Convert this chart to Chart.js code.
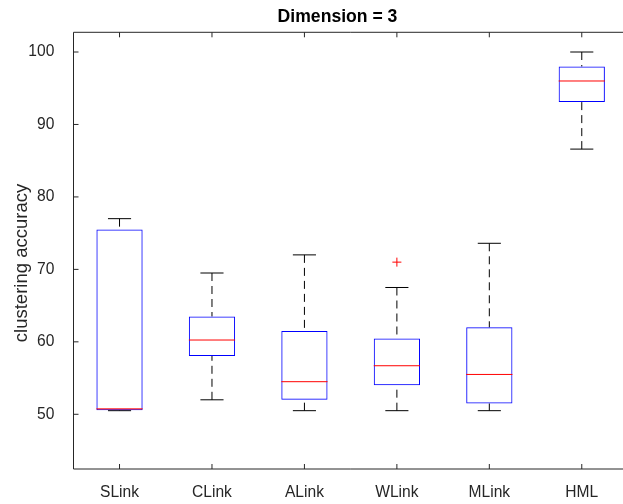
<!DOCTYPE html>
<html lang="en">
<head>
    <meta charset="UTF-8">
    <title>Dimension = 3</title>
    <script src="https://cdn.jsdelivr.net/npm/chart.js"></script>
    <style>
        body { margin: 0; overflow: hidden; background: #fff; }
        canvas { display: block; }
    </style>
</head>
<body>
    <canvas id="boxChart" width="628" height="504"></canvas>

    <script>
        // box plot summary per method
        const categories = ['SLink', 'CLink', 'ALink', 'WLink', 'MLink', 'HML'];
        const whiskerLow = [50.5, 52.0, 50.5, 50.5, 50.5, 86.6];
        const quartile1 = [50.55, 58.05, 52.0, 54.0, 51.5, 93.1];
        const medians = [50.75, 60.25, 54.5, 56.7, 55.5, 96.0];
        const quartile3 = [75.5, 63.5, 61.5, 60.45, 62.0, 98.0];
        const whiskerHigh = [77.0, 69.5, 72.0, 67.5, 73.6, 100.0];
        const outliers = [null, null, null, 71.0, null, null];
        const yTicks = [50, 60, 70, 80, 90, 100];

        const axisColor = '#262626';
        const fontFamily = '"Liberation Sans", Arial, Helvetica, sans-serif';

        // whiskers, caps, medians, frame, inward ticks and titles (matlab style)
        const boxPlotExtras = {
            id: 'boxPlotExtras',
            beforeDatasetsDraw(chart) {
                const ctx = chart.ctx;
                const xs = chart.scales.x, ys = chart.scales.y;
                const catW = (xs.right - xs.left) / categories.length;
                const capHalf = catW * 0.125;
                ctx.save();
                ctx.strokeStyle = '#000';
                ctx.lineWidth = 1;
                categories.forEach((c, i) => {
                    const x = xs.getPixelForValue(i);
                    ctx.setLineDash([8, 5]);
                    ctx.beginPath();
                    ctx.moveTo(x, ys.getPixelForValue(whiskerHigh[i]));
                    ctx.lineTo(x, ys.getPixelForValue(quartile3[i]));
                    ctx.moveTo(x, ys.getPixelForValue(whiskerLow[i]));
                    ctx.lineTo(x, ys.getPixelForValue(quartile1[i]));
                    ctx.stroke();
                    ctx.setLineDash([]);
                    ctx.beginPath();
                    ctx.moveTo(x - capHalf, ys.getPixelForValue(whiskerHigh[i]));
                    ctx.lineTo(x + capHalf, ys.getPixelForValue(whiskerHigh[i]));
                    ctx.moveTo(x - capHalf, ys.getPixelForValue(whiskerLow[i]));
                    ctx.lineTo(x + capHalf, ys.getPixelForValue(whiskerLow[i]));
                    ctx.stroke();
                });
                ctx.restore();
            },
            afterDatasetsDraw(chart) {
                const ctx = chart.ctx;
                const xs = chart.scales.x, ys = chart.scales.y;
                const catW = (xs.right - xs.left) / categories.length;
                const boxHalf = catW * 0.25;
                ctx.save();
                ctx.strokeStyle = '#ff0000';
                ctx.lineWidth = 1;
                categories.forEach((c, i) => {
                    const x = xs.getPixelForValue(i);
                    const y = ys.getPixelForValue(medians[i]);
                    ctx.beginPath();
                    ctx.moveTo(x - boxHalf, y);
                    ctx.lineTo(x + boxHalf, y);
                    ctx.stroke();
                });
                ctx.restore();
            },
            afterDraw(chart) {
                const ctx = chart.ctx;
                const a = chart.chartArea;
                const xs = chart.scales.x, ys = chart.scales.y;
                const tick = 5;
                const L = Math.round(a.left) + 0.5;
                ctx.save();
                ctx.strokeStyle = axisColor;
                ctx.lineWidth = 1;
                ctx.beginPath();
                ctx.moveTo(L, a.top);
                ctx.lineTo(L, a.bottom);
                ctx.lineTo(a.right, a.bottom);
                ctx.lineTo(a.right, a.top);
                ctx.lineTo(L, a.top);
                yTicks.forEach(v => {
                    const y = ys.getPixelForValue(v);
                    ctx.moveTo(L, y);
                    ctx.lineTo(L + tick, y);
                    ctx.moveTo(a.right, y);
                    ctx.lineTo(a.right - tick, y);
                });
                categories.forEach((c, i) => {
                    const x = xs.getPixelForValue(i);
                    ctx.moveTo(x, a.bottom);
                    ctx.lineTo(x, a.bottom - tick);
                    ctx.moveTo(x, a.top);
                    ctx.lineTo(x, a.top + tick);
                });
                ctx.stroke();

                // title, centred where matlab put it
                ctx.fillStyle = '#000';
                ctx.font = 'bold 17.6px ' + fontFamily;
                ctx.textAlign = 'center';
                ctx.textBaseline = 'middle';
                ctx.fillText('Dimension = 3', 337.5, 17.5);

                // y axis label
                ctx.fillStyle = axisColor;
                ctx.font = '18.5px ' + fontFamily;
                ctx.translate(21.5, 263);
                ctx.rotate(-Math.PI / 2);
                ctx.fillText('clustering accuracy', 0, 0);
                ctx.restore();
            }
        };

        const ctx = document.getElementById('boxChart').getContext('2d');
        const boxChart = new Chart(ctx, {
            data: {
                labels: categories,
                datasets: [{
                    type: 'bar',
                    label: 'IQR',
                    data: quartile1.map((q, i) => [q, quartile3[i]]),
                    backgroundColor: 'rgba(0,0,0,0)',
                    borderColor: '#0000ff',
                    borderWidth: 1,
                    borderSkipped: false,
                    categoryPercentage: 1.0,
                    barPercentage: 0.5
                }, {
                    type: 'line',
                    label: 'Outliers',
                    data: outliers,
                    showLine: false,
                    pointStyle: 'cross',
                    pointRadius: 4.5,
                    pointBorderWidth: 1,
                    borderColor: '#ff0000',
                    backgroundColor: '#ff0000'
                }]
            },
            options: {
                responsive: false,
                animation: false,
                layout: { autoPadding: false, padding: { left: 0, right: 0, top: 32.3, bottom: 0 } },
                plugins: {
                    legend: { display: false },
                    tooltip: { enabled: false },
                    title: { display: false }
                },
                scales: {
                    x: {
                        type: 'category',
                        offset: true,
                        grid: { display: false },
                        border: { display: false },
                        ticks: {
                            color: axisColor,
                            padding: 6,
                            font: { family: fontFamily, size: 15.6 }
                        },
                        afterFit: s => { s.height = 35; }
                    },
                    y: {
                        min: 42.45,
                        max: 102.72,
                        grid: { display: false },
                        border: { display: false },
                        afterBuildTicks: s => { s.ticks = yTicks.map(v => ({ value: v })); },
                        ticks: {
                            color: axisColor,
                            padding: 11,
                            font: { family: fontFamily, size: 15.6 }
                        },
                        afterFit: s => { s.width = 73.3; }
                    }
                }
            },
            plugins: [boxPlotExtras]
        });
    </script>
</body>
</html>
